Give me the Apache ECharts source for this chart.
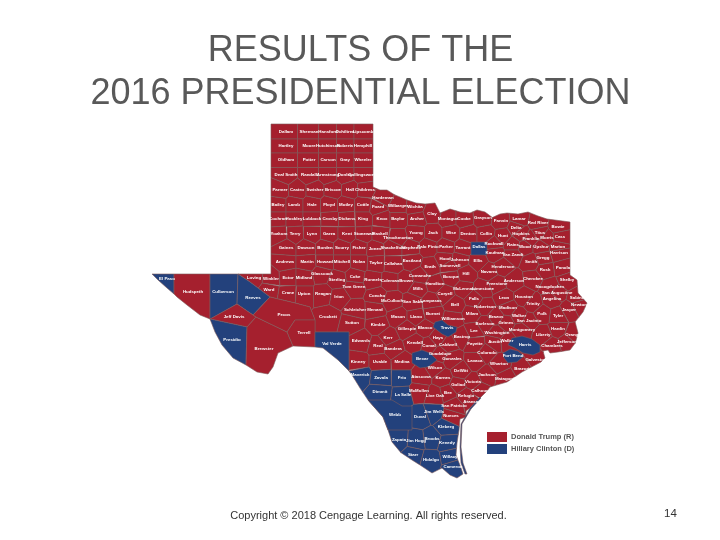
<!DOCTYPE html>
<html>
<head>
  <meta charset="UTF-8">
  <style>html,body{margin:0;background:#fff}#main{width:720px;height:540px}</style>
</head>
<body>
  <div id="main"></div>
  <script src="https://cdn.jsdelivr.net/npm/echarts@6/dist/echarts.min.js"></script>
  <script>
    var titleLines = ['RESULTS OF THE', '2016 PRESIDENTIAL ELECTION']
    var copyright = 'Copyright © 2018 Cengage Learning. All rights reserved.'
    var pageNumber = '14'
    var candidates = ['Donald Trump (R)', 'Hillary Clinton (D)']

    // who carried what
    var clintonCounties = ['El Paso','Culberson','Reeves','Presidio','Val Verde','Maverick','Zavala','Frio','Dimmit','La Salle','Webb','Duval','Jim Wells','Kleberg','Kenedy','Brooks','Jim Hogg','Zapata','Starr','Hidalgo','Willacy','Cameron','Dallas','Travis','Bexar','Harris','Fort Bend','Padre Island']

    // map units, y going down. county cells grow around these label points
    var labelPoints = {
      Dallam:[286,132],Sherman:[309,132],Hansford:[328,132],Ochiltree:[345,132],Lipscomb:[363,132],
      Hartley:[286,146],Moore:[309,146],Hutchinson:[328,146],Roberts:[345,146],Hemphill:[363,146],
      Oldham:[286,160],Potter:[309,160],Carson:[328,160],Gray:[345,160],Wheeler:[363,160],
      'Deaf Smith':[286,175],Randall:[309,175],Armstrong:[328,175],Donley:[345,175],Collingsworth:[363,175],
      Parmer:[280,190],Castro:[297,190],Swisher:[315,190],Briscoe:[333,190],Hall:[350,190],Childress:[365,190],
      Bailey:[278,205],Lamb:[294,205],Hale:[312,205],Floyd:[329,205],Motley:[346,205],Cottle:[363,205],
      Cochran:[278,219],Hockley:[294,219],Lubbock:[312,219],Crosby:[330,219],Dickens:[347,219],King:[363,219],
      Yoakum:[279,234],Terry:[295,234],Lynn:[312,234],Garza:[329,234],Kent:[347,234],Stonewall:[364,234],
      Gaines:[286,248],Dawson:[306,248],Borden:[325,248],Scurry:[342,248],Fisher:[359,248],Jones:[375,249],
      Andrews:[285,262],Martin:[307,262],Howard:[325,262],Mitchell:[342,262],Nolan:[359,262],Taylor:[376,263],
      Loving:[254,278],Winkler:[271,279],Ector:[288,278],Midland:[304,278],Glasscock:[322,274],Sterling:[337,280],Coke:[355,277],Runnels:[373,280],
      Ward:[269,290],Crane:[288,293],Upton:[304,294],Reagan:[323,294],Irion:[339,297],'Tom Green':[354,287],Concho:[377,296],
      Crockett:[328,317],Schleicher:[355,310],Sutton:[352,323],Menard:[375,310],Kimble:[378,325],Mason:[398,317],Llano:[416,317],Burnet:[433,314],
      Edwards:[361,341],Kerr:[388,338],Real:[378,346],Bandera:[393,349],Gillespie:[407,329],Blanco:[425,328],Kendall:[415,343],Comal:[429,346],Hays:[438,338],Caldwell:[448,345],
      Kinney:[358,362],Uvalde:[380,362],Medina:[402,362],Maverick:[360,375],Zavala:[381,378],Frio:[402,378],Atascosa:[421,377],Wilson:[435,368],Karnes:[443,378],Guadalupe:[440,354],Gonzales:[452,359],
      Dimmit:[380,392],'La Salle':[403,395],McMullen:[419,391],'Live Oak':[435,396],Bee:[448,393],Goliad:[458,385],DeWitt:[461,371],Lavaca:[475,361],Victoria:[473,382],Jackson:[487,375],Calhoun:[480,391],Refugio:[466,396],Aransas:[472,402],'San Patricio':[454,406],Nueces:[451,416],
      Duval:[420,417],'Jim Wells':[434,412],Kleberg:[446,427],Kenedy:[447,443],Brooks:[432,439],'Jim Hogg':[416,441],Zapata:[399,440],Starr:[413,455],Hidalgo:[431,460],Willacy:[450,457],Cameron:[453,467],
      Hardeman:[383,198],Foard:[378,207],Wilbarger:[398,206],Wichita:[415,207],Clay:[432,214],Montague:[448,219],Cooke:[464,219],Grayson:[483,218],Fannin:[501,221],Lamar:[519,219],'Red River':[538,223],Bowie:[558,227],
      Knox:[382,219],Baylor:[398,219],Archer:[417,219],Haskell:[380,234],Throckmorton:[398,238],Young:[416,233],Jack:[433,233],Wise:[451,233],Denton:[468,234],Collin:[486,234],Hunt:[503,236],Delta:[516,228],Hopkins:[521,234],Franklin:[531,239],Titus:[540,233],Morris:[547,238],Cass:[560,237],
      Shackelford:[393,248],Stephens:[411,248],'Palo Pinto':[428,247],Parker:[446,247],Tarrant:[463,248],Rockwall:[494,244],Kaufman:[495,253],Rains:[513,245],'Van Zandt':[513,255],Wood:[525,247],Upshur:[541,247],Marion:[558,247],Harrison:[559,253],Gregg:[543,258],
      Callahan:[393,264],Eastland:[412,261],Erath:[430,267],Hood:[445,259],Somervell:[450,266],Johnson:[460,260],Ellis:[478,261],Henderson:[503,267],Smith:[531,262],Rusk:[545,270],Panola:[563,268],
      Coleman:[390,281],Brown:[406,281],Comanche:[420,276],Hamilton:[435,284],Bosque:[451,277],Hill:[466,274],Navarro:[489,272],Anderson:[514,281],Cherokee:[533,279],Shelby:[567,280],
      McCulloch:[392,301],'San Saba':[413,302],Mills:[418,289],Lampasas:[431,301],Coryell:[445,294],McLennan:[464,289],Limestone:[483,289],Freestone:[497,284],Falls:[474,299],Bell:[455,305],Robertson:[485,307],Leon:[504,298],Houston:[524,297],Trinity:[533,304],Nacogdoches:[550,287],'San Augustine':[557,293],Angelina:[552,299],Sabine:[577,298],Newton:[579,305],
      Williamson:[453,319],Milam:[472,314],Madison:[508,308],Brazos:[496,317],Walker:[519,316],Polk:[542,314],Tyler:[558,316],Jasper:[569,310],Burleson:[485,324],Grimes:[506,323],'San Jacinto':[529,321],Hardin:[558,329],
      Lee:[474,331],Bastrop:[462,337],Washington:[497,333],Montgomery:[522,330],Liberty:[543,335],Orange:[573,335],Fayette:[475,344],Austin:[495,342],Waller:[507,341],Chambers:[552,346],Jefferson:[567,342],
      Colorado:[487,353],Wharton:[499,364],Galveston:[536,360],Brazoria:[523,369],Matagorda:[506,379]
    }

    // counties whose shape is drawn out, with their label point first
    var drawnCounties = {
      'El Paso':[[167,279],[[152,274],[174,274],[174,294],[167,288],[158,280]]],
      Hudspeth:[[193,292],[[174,274],[210,274],[210,319],[200,315],[187,305],[177,297],[174,294]]],
      Culberson:[[223,292],[[210,274],[238,274],[237,304],[212,318],[210,319]]],
      Reeves:[[253,298],[[238,274],[250,282],[270,297],[253,315],[237,304]]],
      'Jeff Davis':[[234,317],[[237,304],[253,315],[256,317],[247,327],[210,319]]],
      Presidio:[[232,340],[[210,319],[247,327],[246,365],[233,358],[222,345],[215,332]]],
      Brewster:[[264,349],[[247,327],[256,317],[287,332],[293,346],[278,353],[273,367],[268,374],[257,372],[246,365]]],
      Pecos:[[284,315],[[270,297],[295,303],[310,307],[315,320],[295,320],[287,332],[256,317],[253,315]]],
      Terrell:[[304,333],[[295,320],[315,320],[315,347],[293,346],[287,332]]],
      'Val Verde':[[332,344],[[315,332],[349,332],[349,371],[338,360],[323,348],[315,347]]],
      Webb:[[395,415],[[368,400],[392,400],[402,406],[412,406],[412,430],[388,430],[383,417],[375,408]]],
      Dallas:[[479,247],[[471,242],[487,242],[487,255],[471,255]]],
      Travis:[[447,328],[[435,322],[442,320],[448,325],[457,327],[456,332],[448,337],[442,334],[433,327]]],
      Bexar:[[422,359],[[412,353],[422,350],[430,353],[437,360],[428,367],[420,368],[412,363]]],
      Harris:[[525,345],[[508,345],[512,338],[522,336],[532,339],[540,345],[540,352],[533,355],[523,353],[515,348]]],
      'Fort Bend':[[513,356],[[503,353],[510,349],[518,351],[524,356],[517,362],[508,363],[504,358]]],
      'Padre Island':[[462,450],[[481,398],[471,409],[462,424],[461,447],[463,463],[467,474],[465,474],[461,463],[460,447],[461,424],[470,408],[480,397]]]
    }

    // state edge, minus the far west block which is drawn out above
    var stateEdge = [[271,124],[373,124],[373,187],[380,190],[387,190],[395,195],[407,200],[416,203],[425,204],[435,203],[440,213],[450,209],[460,212],[470,213],[477,210],[485,212],[493,218],[500,214],[507,213],[518,214],[528,212],[538,216],[547,219],[570,222],[570,275],[577,280],[578,293],[587,303],[583,312],[575,322],[578,333],[575,344],[570,350],[558,352],[550,353],[548,350],[543,351],[545,358],[541,362],[522,372],[507,382],[490,387],[487,391],[480,398],[470,408],[466,411],[466,417],[460,419],[459,430],[457,443],[456,455],[461,468],[463,474],[457,478],[450,475],[442,468],[432,473],[420,465],[412,460],[400,452],[392,442],[388,430],[383,417],[375,408],[368,400],[360,388],[352,375],[349,371],[349,332],[315,332],[315,320],[310,307],[295,303],[270,297],[250,282],[238,274],[271,274]]

    // keep the side of the perpendicular bisector that holds p
    function clipToward(poly, p, q) {
      var mx = (p[0] + q[0]) / 2, my = (p[1] + q[1]) / 2
      var nx = q[0] - p[0], ny = q[1] - p[1]
      var out = []
      for (var i = 0; i < poly.length; i++) {
        var a = poly[i], b = poly[(i + 1) % poly.length]
        var da = (a[0] - mx) * nx + (a[1] - my) * ny
        var db = (b[0] - mx) * nx + (b[1] - my) * ny
        if (da <= 0) out.push(a)
        if (da * db < 0) {
          var t = da / (da - db)
          out.push([a[0] + (b[0] - a[0]) * t, a[1] + (b[1] - a[1]) * t])
        }
      }
      return out
    }

    function feature(name, cp, ring) {
      var flip = function (pt) { return [pt[0], -pt[1]] }
      var closed = ring.map(flip)
      closed.push(closed[0])
      return {
        type: 'Feature',
        properties: { name: name, cp: flip(cp) },
        geometry: { type: 'Polygon', coordinates: [closed] }
      }
    }

    var features = []
    var names = Object.keys(labelPoints)
    names.forEach(function (name) {
      var ring = stateEdge
      names.forEach(function (other) {
        if (other !== name) ring = clipToward(ring, labelPoints[name], labelPoints[other])
      })
      if (ring.length > 2) features.push(feature(name, labelPoints[name], ring))
    })
    Object.keys(drawnCounties).forEach(function (name) {
      features.push(feature(name, drawnCounties[name][0], drawnCounties[name][1]))
    })
    echarts.registerMap('texas', { type: 'FeatureCollection', features: features })

    var allPoints = stateEdge.slice()
    Object.keys(drawnCounties).forEach(function (name) { allPoints = allPoints.concat(drawnCounties[name][1]) })
    var xs = allPoints.map(function (p) { return p[0] })
    var ys = allPoints.map(function (p) { return p[1] })
    var minX = Math.min.apply(null, xs), maxX = Math.max.apply(null, xs)
    var minY = Math.min.apply(null, ys), maxY = Math.max.apply(null, ys)

    var mapData = features.map(function (f) {
      var name = f.properties.name
      var row = { name: name, value: clintonCounties.indexOf(name) >= 0 ? 2 : 1 }
      if (name === 'Padre Island') row.label = { show: false }
      return row
    })

    var myChart = echarts.init(document.getElementById('main'), null, { renderer: 'canvas' })
    myChart.setOption({
      animation: false,
      title: [
        {
          text: titleLines.join('\n'), left: 360.5, top: 30, padding: 0, textAlign: 'center',
          textStyle: { fontFamily: 'Liberation Sans', fontWeight: 'normal', fontSize: 36, lineHeight: 43, color: '#595959' }
        },
        {
          text: copyright, left: 368.5, top: 510, padding: 0, textAlign: 'center',
          textStyle: { fontFamily: 'Liberation Sans', fontWeight: 'normal', fontSize: 11, color: '#333' }
        },
        {
          text: pageNumber, left: 664, top: 508, padding: 0,
          textStyle: { fontFamily: 'Liberation Sans', fontWeight: 'normal', fontSize: 11.5, color: '#333' }
        }
      ],
      visualMap: {
        type: 'piecewise',
        left: 487, top: 432, itemWidth: 20, itemHeight: 10, itemGap: 2, itemSymbol: 'rect', padding: 0,
        align: 'left', inverse: true, textGap: 4, selectedMode: false, seriesIndex: 0,
        textStyle: { fontFamily: 'Liberation Sans', fontSize: 7.5, fontWeight: 'bold', color: '#555' },
        pieces: [
          { value: 1, label: candidates[0], color: '#a5202e' },
          { value: 2, label: candidates[1], color: '#23417c' }
        ]
      },
      series: [{
        type: 'map',
        map: 'texas',
        aspectScale: 1,
        left: minX, top: minY, width: maxX - minX, height: maxY - minY,
        silent: true,
        itemStyle: { borderColor: '#7d5b5b', borderWidth: 0.6 },
        label: { show: true, color: '#fff', fontFamily: 'Liberation Sans', fontSize: 4.4, fontWeight: 'bold' },
        data: mapData
      }]
    })
  </script>
</body>
</html>
